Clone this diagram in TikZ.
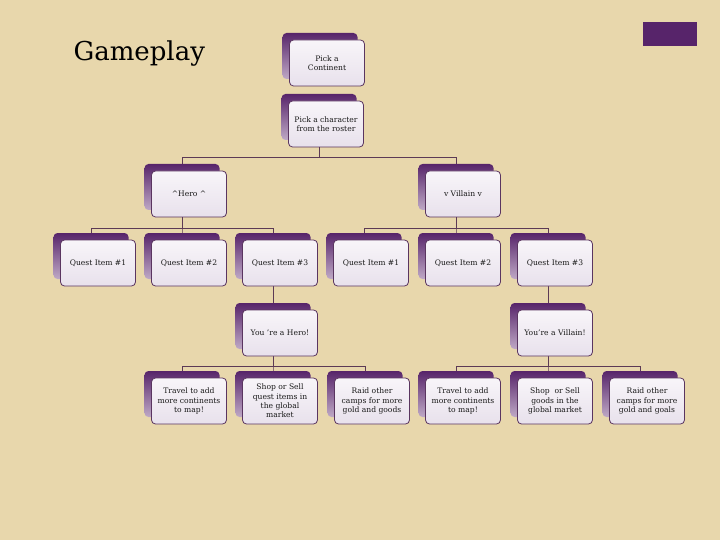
\documentclass[tikz,border=0pt]{standalone}
\usepackage{fontspec}
\setmainfont{DejaVu Serif}
\usepackage{xcolor}
\usetikzlibrary{positioning,calc}
\definecolor{parch}{HTML}{E8D7AC}
\definecolor{plum}{HTML}{57246A}
\definecolor{plumlt}{HTML}{BFA9C6}
\definecolor{rim}{HTML}{5A3560}
\definecolor{face}{HTML}{F8F5F9}
\definecolor{facedk}{HTML}{E8E1EC}
\definecolor{wirec}{HTML}{5C3A55}
\pgfdeclarelayer{back}
\pgfsetlayers{back,main}
\tikzset{
  cardbk/.style={rounded corners=4pt, minimum width=75pt, minimum height=46pt, inner sep=0pt, top color=plum, bottom color=plumlt},
  card/.style={draw=rim, line width=0.8pt, rounded corners=4pt, minimum width=75pt, minimum height=46pt, inner sep=1pt, align=center,
    top color=face, bottom color=facedk, text=black!90, font=\fontsize{7.6}{9.4}\selectfont},
  wire/.style={draw=wirec, line width=0.8pt}}

\begin{document}
\begin{tikzpicture}[x=1pt, y=-1pt]
\begin{pgfonlayer}{back}
\fill[parch] (0,0) rectangle (720,540);
\end{pgfonlayer}
\useasboundingbox (0,0) rectangle (720,540);
\fill[plum] (643,22) rectangle (697,46);
\node[anchor=west, font=\fontsize{26}{30}\selectfont] (title) at (70,54) {Gameplay};
\newcommand{\gcard}[4]{% name, x of the shadow, top of the face, text
  \node[cardbk] (#1-b) at (#2,#3+16) {};
  \node[card] (#1) at (#2+7,#3+23) {#4};}
\gcard{cont}{320}{40}{Pick a\\Continent}
\gcard{chr}{319}{101}{Pick a character\\from the roster}
\gcard{hero}{182}{171}{\textasciicircum Hero \textasciicircum}
\gcard{vil}{456}{171}{v Villain v}
\foreach \n/\x/\t in {hq1/91/Quest Item \#1, hq2/182/Quest Item \#2, hq3/273/Quest Item \#3,
    vq1/364/Quest Item \#1, vq2/456/Quest Item \#2, vq3/548/Quest Item \#3}
  \gcard{\n}{\x}{240}{\t};
\gcard{yh}{273}{310}{You 're a Hero!}
\gcard{yv}{548}{310}{You're a Villain!}
\gcard{ha}{182}{378}{Travel to add\\more continents\\to map!}
\gcard{hb}{273}{378}{Shop or Sell\\quest items in\\the global\\market}
\gcard{hc}{365}{378}{Raid other\\camps for more\\gold and goods}
\gcard{va}{456}{378}{Travel to add\\more continents\\to map!}
\gcard{vb}{548}{378}{Shop~ or Sell\\goods in the\\global market}
\gcard{vc}{640}{378}{Raid other\\camps for more\\gold and goals}
% buses of the tree
\coordinate (bus1) at (0,157);
\coordinate (bus2) at (0,228);
\coordinate (bus3) at (0,366);
\begin{pgfonlayer}{back}
\foreach \c in {hero,vil} \draw[wire] (chr-b.center) -- (chr-b.center |- bus1) -| (\c-b.center);
\foreach \c in {hq1,hq2,hq3} \draw[wire] (hero-b.center) -- (hero-b.center |- bus2) -| (\c-b.center);
\foreach \c in {vq1,vq2,vq3} \draw[wire] (vil-b.center) -- (vil-b.center |- bus2) -| (\c-b.center);
\draw[wire] (hq3-b.center) -- (yh-b.center);
\draw[wire] (vq3-b.center) -- (yv-b.center);
\foreach \c in {ha,hb,hc} \draw[wire] (yh-b.center) -- (yh-b.center |- bus3) -| (\c-b.center);
\foreach \c in {va,vb,vc} \draw[wire] (yv-b.center) -- (yv-b.center |- bus3) -| (\c-b.center);
\end{pgfonlayer}
\end{tikzpicture}
\end{document}
